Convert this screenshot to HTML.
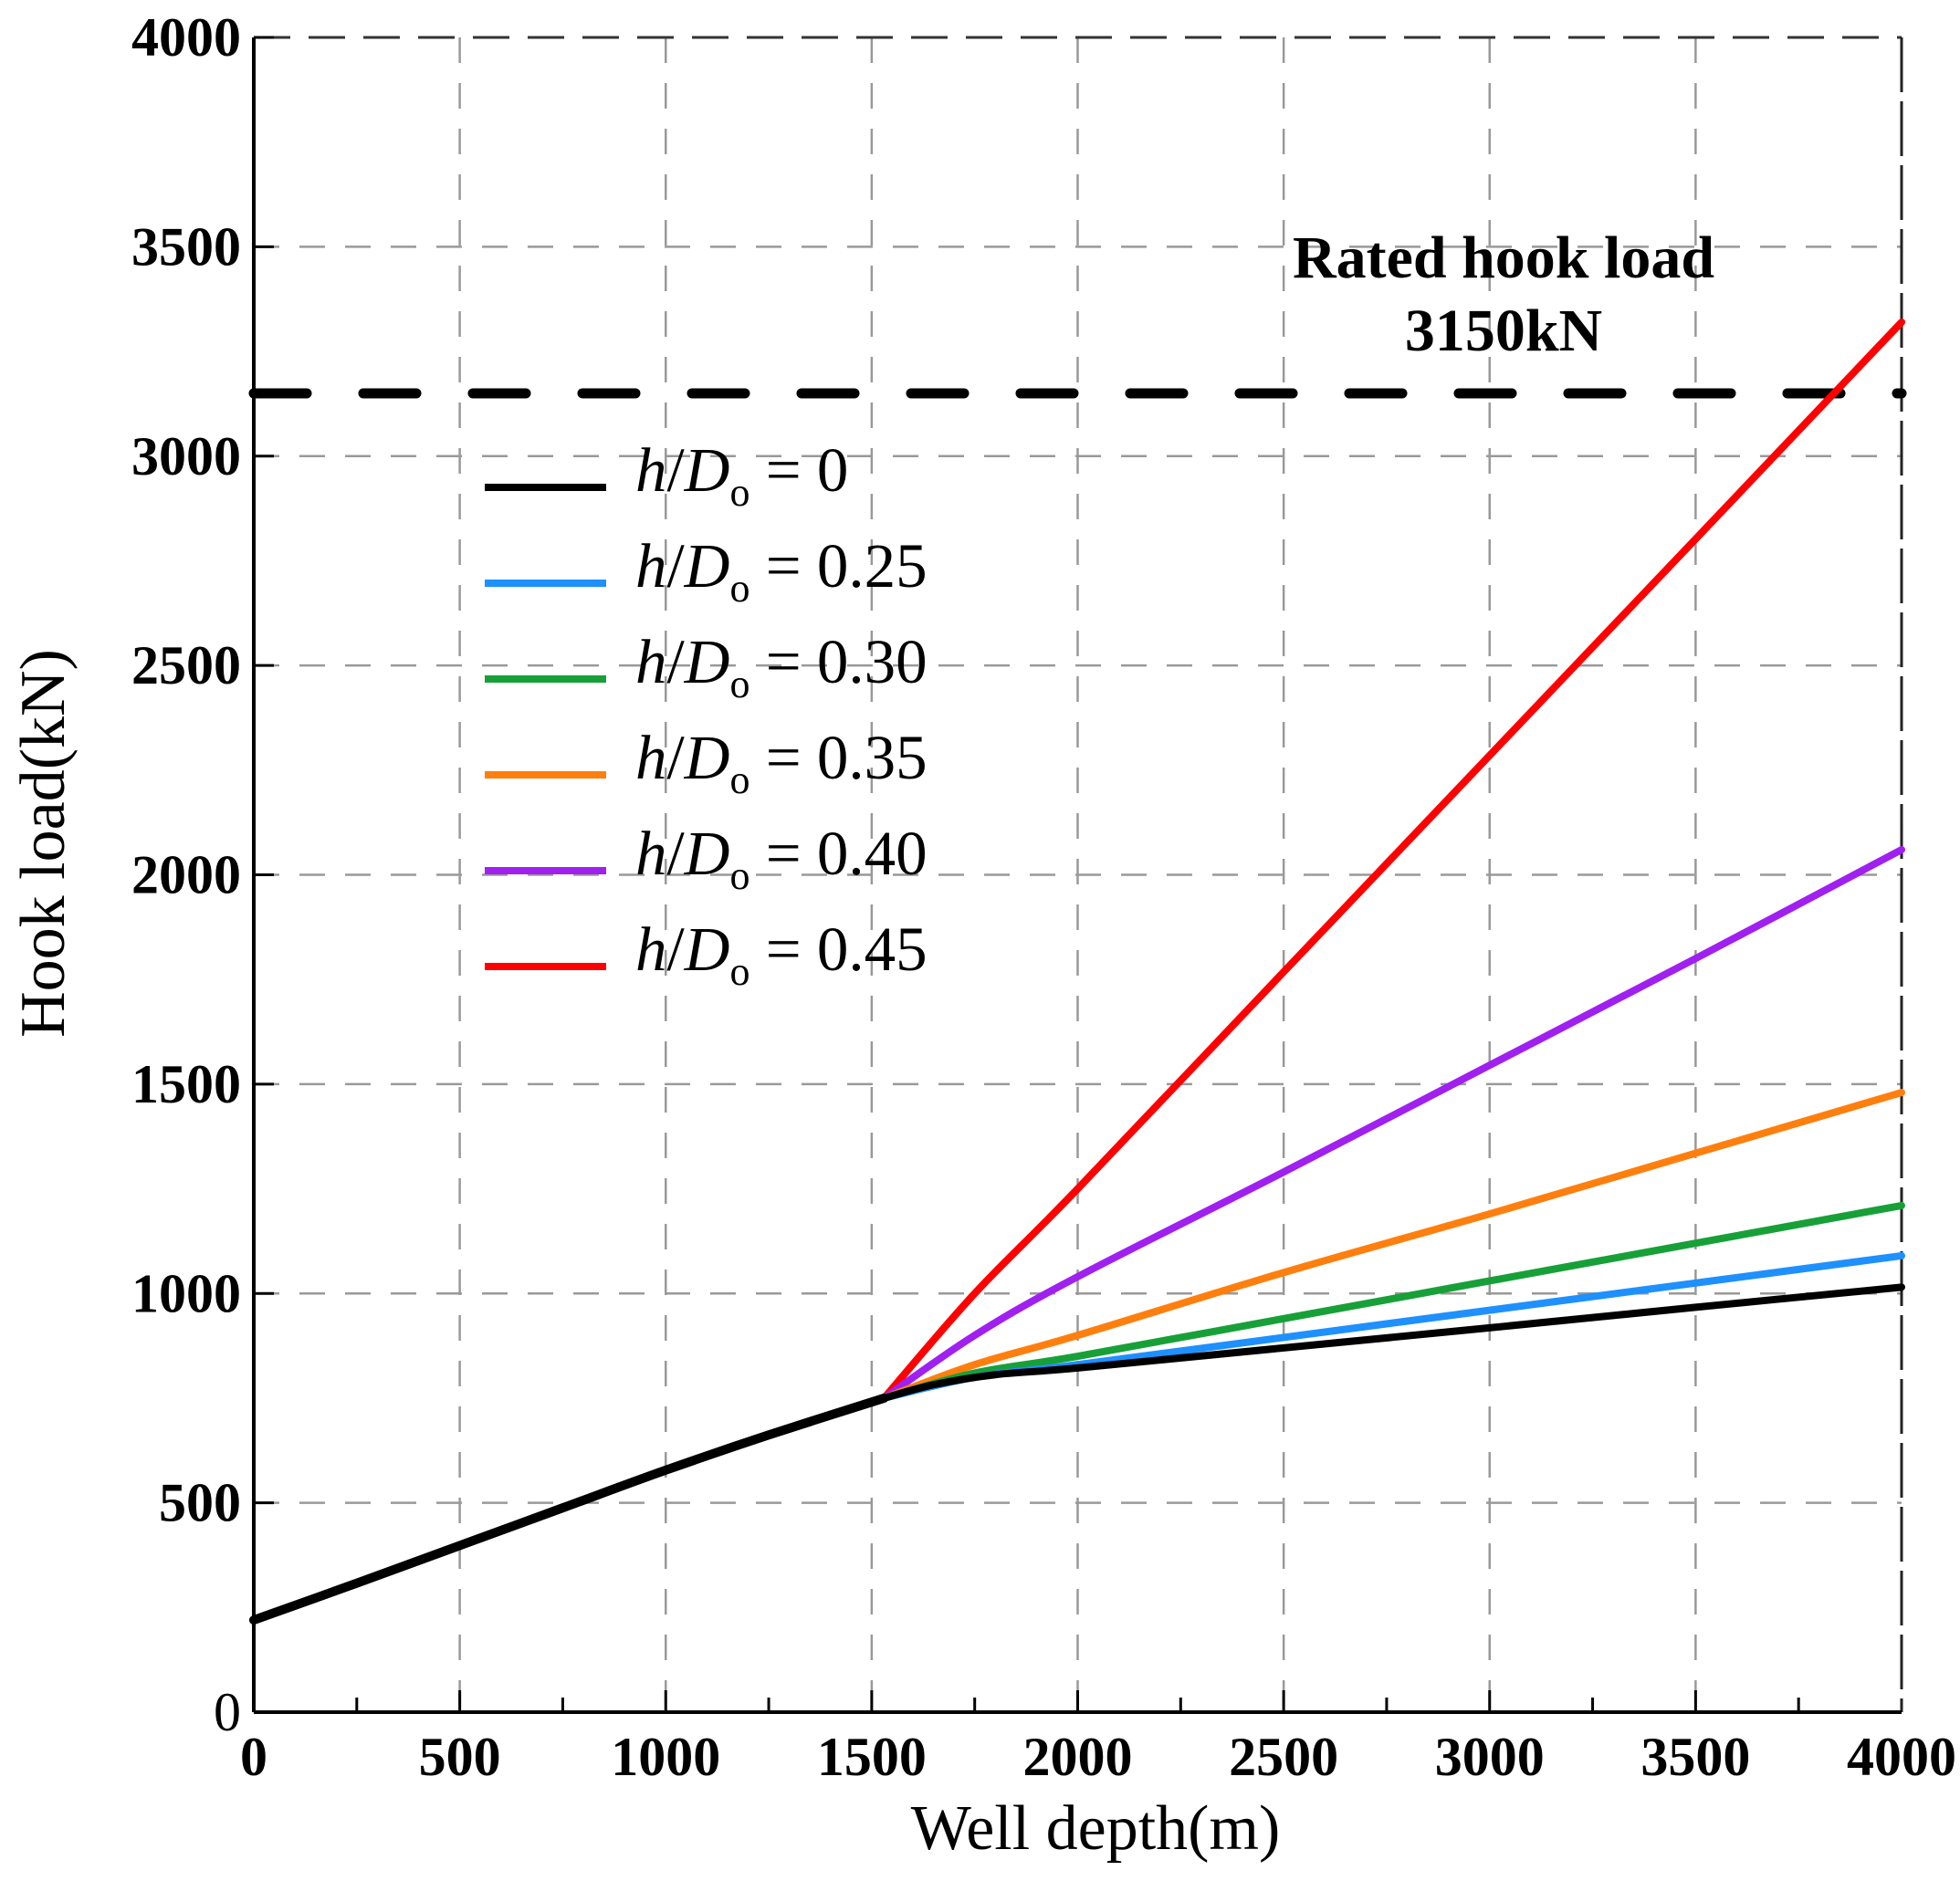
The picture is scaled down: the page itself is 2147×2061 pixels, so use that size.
<!DOCTYPE html>
<html><head><meta charset="utf-8"><style>
html,body{margin:0;padding:0;background:#fff;}
svg{display:block;font-family:"Liberation Serif",serif;}
</style></head><body>
<svg id="s" width="2147" height="2061" viewBox="0 0 2147 2061" xmlns="http://www.w3.org/2000/svg">
<g id="grid"></g>
<g id="series"></g>
<g id="txt"></g>
</svg>
<script>
const L=278,R=2083,T=41,B=1876;
const X=x=>L+x*(R-L)/4000, Y=y=>B-y*(B-T)/4000;
const NS="http://www.w3.org/2000/svg";
function el(p,tag,a,txt){const e=document.createElementNS(NS,tag);for(const k in a)e.setAttribute(k,a[k]);if(txt!==undefined)e.textContent=txt;document.getElementById(p).appendChild(e);return e;}
for(let i=1;i<8;i++){
  el("grid","line",{x1:X(i*500),x2:X(i*500),y1:T,y2:B,stroke:"#999","stroke-width":2.5,"stroke-dasharray":"28 22"});
  el("grid","line",{x1:L,x2:R,y1:Y(i*500),y2:Y(i*500),stroke:"#999","stroke-width":2.5,"stroke-dasharray":"28 22"});
}
el("grid","line",{x1:L,x2:R,y1:T,y2:T,stroke:"#333","stroke-width":3,"stroke-dasharray":"40 20"});
el("grid","line",{x1:R,x2:R,y1:T,y2:B,stroke:"#222","stroke-width":3,"stroke-dasharray":"60 10"});
el("grid","line",{x1:L,x2:L,y1:T,y2:B,stroke:"#000","stroke-width":4});
el("grid","line",{x1:L,x2:R,y1:B,y2:B,stroke:"#000","stroke-width":4});
for(let i=0;i<16;i++){const x=X(i*250);el("grid","line",{x1:x,x2:x,y1:B,y2:B-(i%2?16:24),stroke:"#000","stroke-width":3});}
for(let i=0;i<=8;i++){const y=Y(i*500);el("grid","line",{x1:L,x2:L+22,y1:y,y2:y,stroke:"#000","stroke-width":3});}
el("series","line",{x1:L,x2:R,y1:Y(3150),y2:Y(3150),stroke:"#000","stroke-width":11,"stroke-dasharray":"58 62","stroke-linecap":"round"});
function smooth(pts,col,w){
  const P=pts.map(p=>[X(p[0]),Y(p[1])]);
  let d="M"+P[0][0]+","+P[0][1];
  for(let i=0;i<P.length-1;i++){
    const p0=P[i-1]||P[i],p1=P[i],p2=P[i+1],p3=P[i+2]||P[i+1];
    const c1=[p1[0]+(p2[0]-p0[0])/6,p1[1]+(p2[1]-p0[1])/6];
    const c2=[p2[0]-(p3[0]-p1[0])/6,p2[1]-(p3[1]-p1[1])/6];
    d+=" C"+c1+" "+c2+" "+p2;
  }
  el("series","path",{d:d,fill:"none",stroke:col,"stroke-width":w,"stroke-linecap":"round"});
}
const trunk=[[0,220],[250,308],[500,398],[750,488],[1000,578],[1250,662],[1530,750]];
const S=[
 ["#ff0000",[[1530,750],[1750,1000],[2000,1250],[2500,1768],[3000,2285],[3500,2802],[4000,3320]]],
 ["#a020f0",[[1530,750],[1750,900],[2000,1040],[2500,1290],[3000,1545],[3500,1800],[4000,2060]]],
 ["#ff7f0e",[[1530,750],[1750,830],[2000,900],[2500,1050],[3000,1190],[3500,1335],[4000,1480]]],
 ["#18a038",[[1530,750],[1750,810],[2000,850],[2500,940],[3000,1030],[3500,1120],[4000,1210]]],
 ["#1e90ff",[[1530,750],[1750,800],[2000,830],[2500,895],[3000,960],[3500,1025],[4000,1090]]],
 ["#000000",[[1530,750],[1650,782],[1800,806],[2000,822],[2500,870],[3000,918],[3500,967],[4000,1015]]]
];
for(const s of S)smooth(s[1],s[0],8);
smooth(trunk,"#000",10);
const lg=[["#000","0"],["#1e90ff","0.25"],["#18a038","0.30"],["#ff7f0e","0.35"],["#a020f0","0.40"],["#ff0000","0.45"]];
lg.forEach((g,i)=>{const y=534+i*105;
 el("txt","line",{x1:531,x2:664,y1:y,y2:y,stroke:g[0],"stroke-width":8});
 const t=el("txt","text",{x:696,y:y+4,"font-size":69});
 t.innerHTML='<tspan font-style="italic">h</tspan>/<tspan font-style="italic">D</tspan><tspan font-size="44" dy="16">o</tspan><tspan dy="-16"> = '+g[1]+'</tspan>';
});
for(let i=0;i<=8;i++){
 el("txt","text",{x:L-14,y:Y(i*500)+20,"font-size":60,"font-weight":i?"bold":"normal","text-anchor":"end"},String(i*500));
 el("txt","text",{x:X(i*500),y:1945,"font-size":60,"font-weight":"bold","text-anchor":"middle"},String(i*500));
}
el("txt","text",{x:1200,y:2026,"font-size":70,"text-anchor":"middle"},"Well depth(m)");
el("txt","text",{x:0,y:0,"font-size":70,"text-anchor":"middle",transform:"translate(70,924) rotate(-90)"},"Hook  load(kN)");
el("txt","text",{x:1647,y:304,"font-size":66,"font-weight":"bold","text-anchor":"middle"},"Rated hook load");
el("txt","text",{x:1647,y:384,"font-size":66,"font-weight":"bold","text-anchor":"middle"},"3150kN");
</script>
</body></html>
